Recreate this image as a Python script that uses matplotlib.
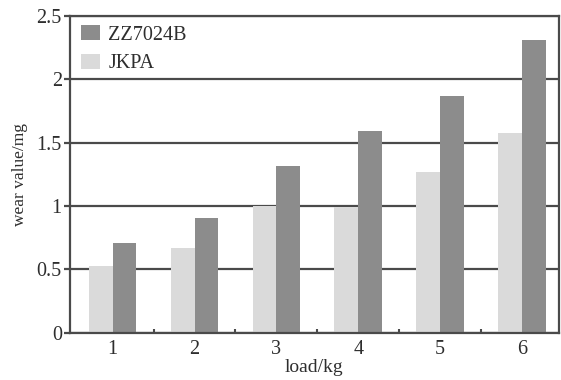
import matplotlib
matplotlib.use("Agg")
import matplotlib.pyplot as plt
import numpy as np

loads = [1, 2, 3, 4, 5, 6]
zz7024b = [0.71, 0.91, 1.32, 1.59, 1.87, 2.31]
jkpa = [0.53, 0.67, 1.00, 0.99, 1.27, 1.58]
yticks = [0, 0.5, 1, 1.5, 2, 2.5]
ytick_labels = ["0", "0.5", "1", "1.5", "2", "2.5"]

plt.rcParams['font.family'] = ['Liberation Serif', 'DejaVu Serif']

fig = plt.figure(figsize=(5.61, 3.80), dpi=100)
ax = fig.add_axes([0.125, 0.124, 0.871, 0.834])

x = np.array(loads, dtype=float)
w = 0.29
frame = "#4a4a4a"
txt = "#2e2e2e"
ax.set_axisbelow(True)
ax.yaxis.grid(True, color=frame, linewidth=1.6)
ax.bar(x - w / 2, jkpa, width=w, color="#dadada", label="JKPA", zorder=2)
ax.bar(x + w / 2, zz7024b, width=w, color="#8c8c8c", label="ZZ7024B", zorder=2)

ax.set_xlim(0.48, 6.45)
ax.set_ylim(0, 2.5)
ax.set_yticks(yticks)
ax.set_yticklabels(ytick_labels)
ax.set_xticks(loads)
ax.set_xticks(x[:-1] + 0.5, minor=True)
ax.tick_params(axis='x', which='major', length=0, labelsize=14.5, pad=5, colors=txt)
ax.tick_params(axis='x', which='minor', direction='in', length=3, width=1.5, color=frame)
ax.tick_params(axis='y', length=4, width=1.6, color=frame, labelsize=14.5, pad=2, labelcolor=txt)
for s in ax.spines.values():
    s.set_color(frame)
    s.set_linewidth(1.6)

ax.set_xlabel("load/kg", fontsize=14, color=txt, labelpad=0)
ax.set_ylabel("wear value/mg", fontsize=12.5, color=txt, labelpad=6)

handles, labels = ax.get_legend_handles_labels()
leg = ax.legend(handles[::-1], labels[::-1], loc="upper left", frameon=False,
                fontsize=14.5, handlelength=0.95, handleheight=0.75, handletextpad=0.4,
                labelspacing=0.45, borderaxespad=0, borderpad=0,
                bbox_to_anchor=(0.0225, 0.97), labelcolor=txt)

fig.savefig("out.png", dpi=100)
